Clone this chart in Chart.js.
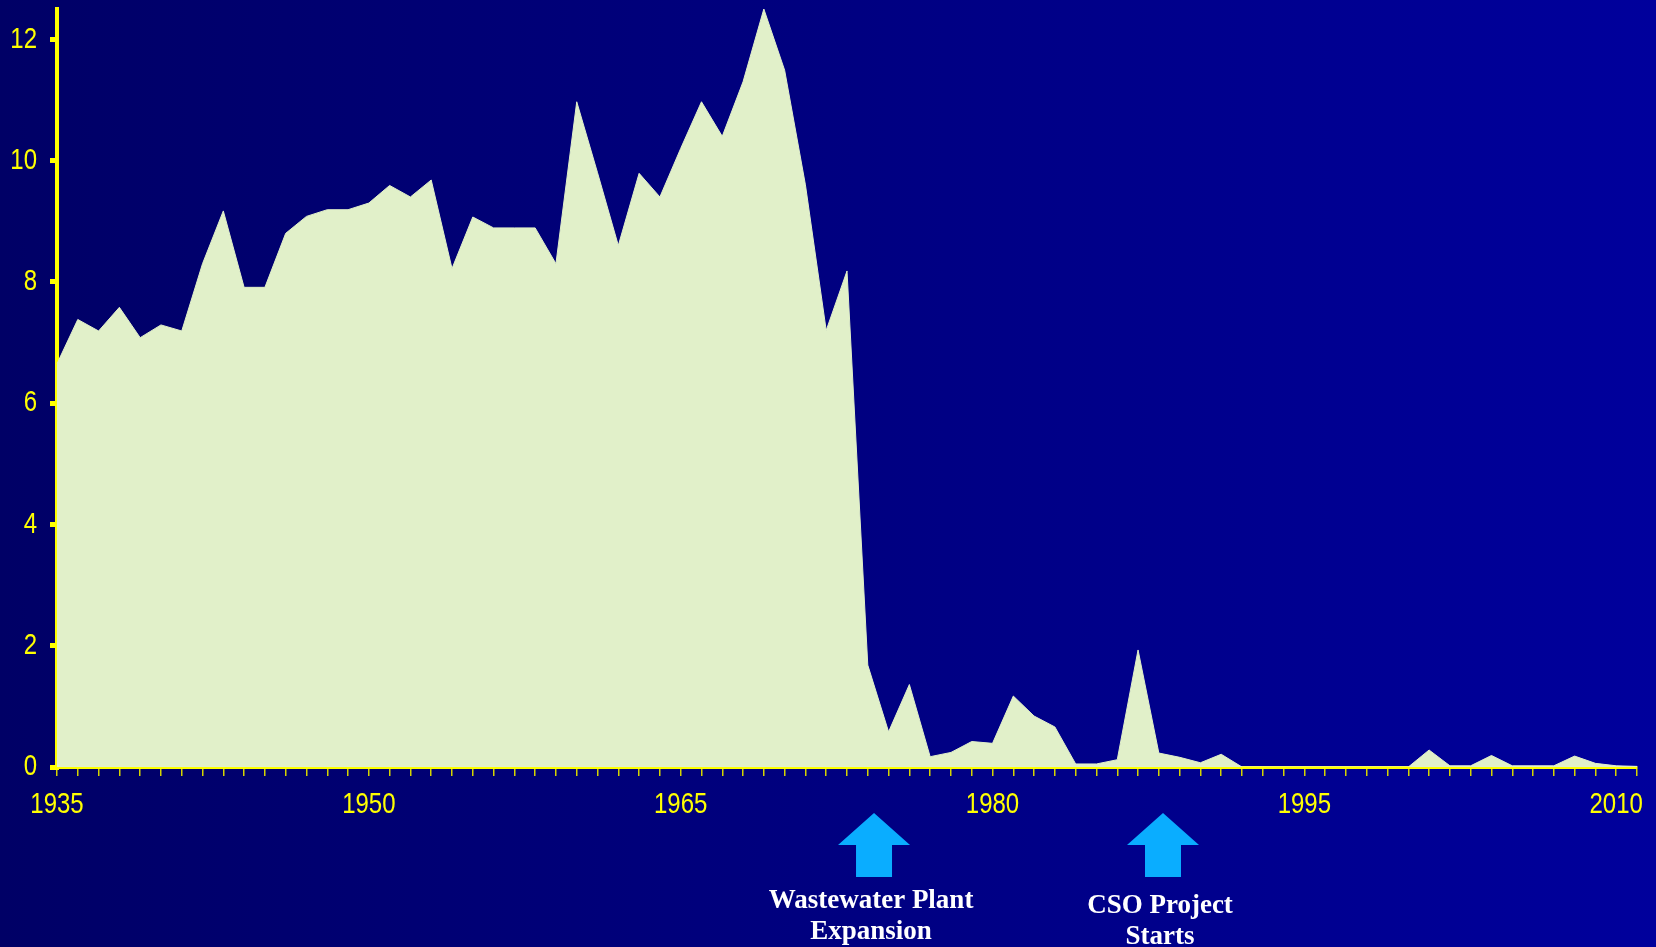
<!DOCTYPE html>
<html>
<head>
<meta charset="utf-8">
<script src="https://cdn.jsdelivr.net/npm/chart.js@4/dist/chart.umd.min.js"></script>
<style>
  html, body { margin: 0; padding: 0; }
  body { width: 1656px; height: 947px; overflow: hidden;
         background: linear-gradient(to right, #000066 0%, #000080 50%, #00009c 100%); }
  #wrap { position: absolute; left: 0; top: 0; width: 1656px; height: 947px; }
</style>
</head>
<body>
<div id="wrap"><canvas id="c" width="1656" height="947"></canvas></div>
<script>
const years = [1935,1936,1937,1938,1939,1940,1941,1942,1943,1944,
               1945,1946,1947,1948,1949,1950,1951,1952,1953,1954,
               1955,1956,1957,1958,1959,1960,1961,1962,1963,1964,
               1965,1966,1967,1968,1969,1970,1971,1972,1973,1974,
               1975,1976,1977,1978,1979,1980,1981,1982,1983,1984,
               1985,1986,1987,1988,1989,1990,1991,1992,1993,1994,
               1995,1996,1997,1998,1999,2000,2001,2002,2003,2004,
               2005,2006,2007,2008,2009,2010,2011];
const values = [6.65,7.38,7.19,7.58,7.08,7.29,7.19,8.3,9.17,7.91,
                7.91,8.8,9.08,9.19,9.19,9.3,9.59,9.4,9.68,8.22,
                9.07,8.89,8.89,8.89,8.3,10.97,9.8,8.6,9.79,9.4,
                10.2,10.97,10.4,11.3,12.5,11.49,9.6,7.2,8.18,1.68,
                0.58,1.36,0.17,0.24,0.42,0.39,1.17,0.84,0.66,0.05,
                0.05,0.12,1.93,0.23,0.16,0.07,0.21,0,0,0,
                0,0,0,0,0,0,0.28,0.02,0.02,0.19,
                0.02,0.02,0.02,0.18,0.06,0.02,0.01];
const labeledYears = [1935,1950,1965,1980,1995,2010];
const noteYears = [1974.3, 1988.2];
const noteLines = [["Wastewater Plant","Expansion"],["CSO Project","Starts"]];

const tickFont = { family: "'Liberation Sans',Arial,sans-serif", size: 30 };
const NARROW = 0.8;

// draw the axis' own label items horizontally condensed (Arial Narrow look)
function narrowDrawLabels(area) {
  const ctx = this.ctx;
  const items = this.getLabelItems(area);
  for (const item of items) {
    const o = item.options;
    const lines = Array.isArray(item.label) ? item.label : [item.label];
    ctx.save();
    ctx.translate(o.translation[0], o.translation[1]);
    if (o.rotation) ctx.rotate(o.rotation);
    ctx.scale(NARROW, 1);
    ctx.font = item.font.string;
    ctx.fillStyle = o.color;
    ctx.textAlign = o.textAlign;
    ctx.textBaseline = o.textBaseline;
    lines.forEach((l, i) => ctx.fillText(String(l), 0, item.textOffset + i * item.font.lineHeight));
    ctx.restore();
  }
}

const narrowPlugin = {
  id: 'narrow',
  beforeDraw(chart) {
    chart.scales.x.drawLabels = narrowDrawLabels;
    chart.scales.y.drawLabels = narrowDrawLabels;
  }
};

const notesPlugin = {
  id: 'notes',
  afterDraw(chart) {
    const ctx = chart.ctx;
    const xs = chart.scales.x;
    const base = chart.chartArea.bottom;
    noteYears.forEach((yr, i) => {
      const idx = years.indexOf(Math.floor(yr)) + (yr - Math.floor(yr));
      const cx = xs.getPixelForValue(idx);
      ctx.save();
      ctx.fillStyle = '#0aadff';
      ctx.beginPath();
      ctx.moveTo(cx, base + 46);
      ctx.lineTo(cx + 36, base + 78);
      ctx.lineTo(cx + 18, base + 78);
      ctx.lineTo(cx + 18, base + 110);
      ctx.lineTo(cx - 18, base + 110);
      ctx.lineTo(cx - 18, base + 78);
      ctx.lineTo(cx - 36, base + 78);
      ctx.closePath();
      ctx.fill();
      ctx.fillStyle = '#ffffff';
      ctx.font = "bold 27px 'Liberation Serif','Times New Roman',serif";
      ctx.textAlign = 'center';
      ctx.textBaseline = 'alphabetic';
      const off = i === 0 ? 141 : 146;
      noteLines[i].forEach((t, k) => {
        ctx.fillText(t, cx - 3, base + off + k * 31);
      });
      ctx.restore();
    });
  }
};

new Chart(document.getElementById('c'), {
  type: 'line',
  data: {
    labels: years,
    datasets: [{
      data: values,
      fill: 'origin',
      backgroundColor: '#e1f0c9',
      borderColor: '#e1f0c9',
      borderWidth: 1,
      pointRadius: 0,
      tension: 0
    }]
  },
  options: {
    responsive: false,
    animation: false,
    devicePixelRatio: 1,
    layout: { padding: { top: 9, right: 19, left: 0, bottom: 0 } },
    plugins: { legend: { display: false }, tooltip: { enabled: false } },
    scales: {
      x: {
        type: 'category',
        offset: false,
        border: { display: true, color: '#ffff00', width: 3 },
        grid: { display: true, drawOnChartArea: false, drawTicks: true, tickLength: 9,
                color: '#d4d400', lineWidth: 1.5, offset: false },
        ticks: {
          autoSkip: false, maxRotation: 0, minRotation: 0, padding: 11,
          color: '#ffff00', font: tickFont,
          callback: function (v, i) {
            const y = years[i];
            return labeledYears.includes(y) ? String(y) : '';
          }
        },
        afterFit(s) { s.height = 180; s.paddingLeft = 0; s.paddingRight = 0; }
      },
      y: {
        min: 0, max: 12.5,
        border: { display: true, color: '#ffff00', width: 4 },
        grid: { display: true, drawOnChartArea: false, drawTicks: true, tickLength: 7,
                color: '#ffff00', lineWidth: 5 },
        ticks: { stepSize: 2, includeBounds: false, padding: 13, color: '#ffff00', font: tickFont },
        afterFit(s) { s.width = 57; s.paddingTop = 0; s.paddingBottom = 0; }
      }
    }
  },
  plugins: [narrowPlugin, notesPlugin]
});
</script>
</body>
</html>
